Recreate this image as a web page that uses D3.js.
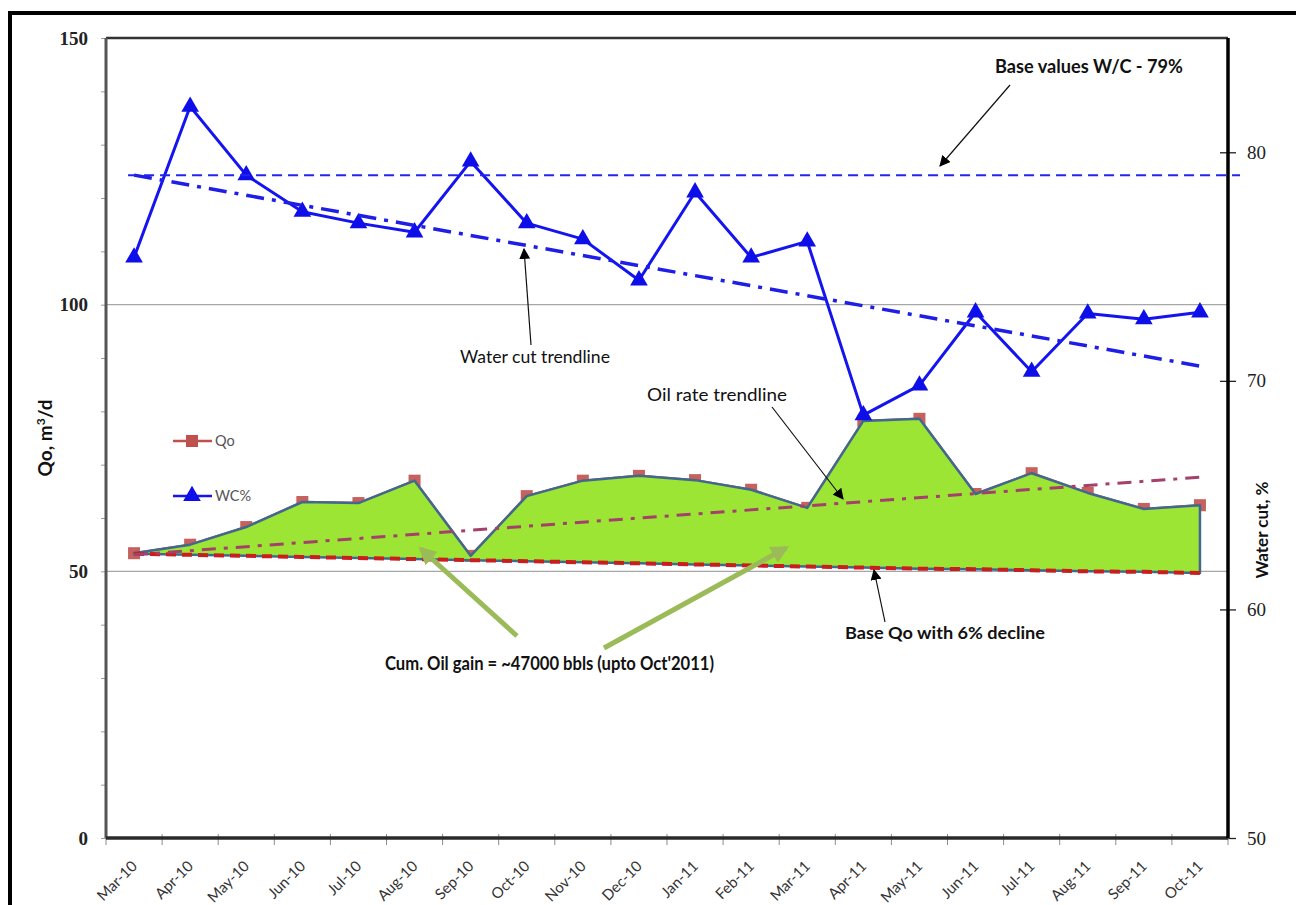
<!DOCTYPE html>
<html>
<head>
<meta charset="utf-8">
<script src="https://cdn.jsdelivr.net/npm/d3@7"></script>
<style>
  html, body { margin: 0; padding: 0; background: #fff; }
  svg { display: block; }
</style>
</head>
<body>
<svg id="chart" width="1296" height="905"></svg>
<script>
// Monthly categories
const months = ["Mar-10","Apr-10","May-10","Jun-10","Jul-10","Aug-10","Sep-10","Oct-10","Nov-10","Dec-10",
                "Jan-11","Feb-11","Mar-11","Apr-11","May-11","Jun-11","Jul-11","Aug-11","Sep-11","Oct-11"];
// Oil rate, m3/d (left axis)
const qo = [53.4, 55.0, 58.3, 63.0, 62.8, 67.0, 52.9, 64.1, 67.0, 67.9,
            67.1, 65.3, 61.9, 78.2, 78.6, 64.5, 68.4, 64.7, 61.7, 62.4];
// Water cut, % (right axis)
const wc = [75.4, 82.0, 79.0, 77.4, 76.9, 76.5, 79.6, 76.9, 76.2, 74.4,
            78.25, 75.4, 76.1, 68.5, 69.8, 73.0, 70.4, 72.95, 72.7, 73.0];
// Base oil rate with 6% decline, m3/d
const baseQo = [53.3, 53.1, 52.9, 52.7, 52.5, 52.3, 52.1, 51.9, 51.7, 51.5,
                51.3, 51.1, 50.9, 50.7, 50.5, 50.4, 50.2, 50.0, 49.9, 49.7];
// Trendline end values (first month, last month)
const oilTrend = [53.1, 67.7];
const wcTrend = [79.0, 70.6];
// Base water cut, %
const baseWC = 79;
// Axis ticks
const leftTicks = [0, 50, 100, 150];
const leftMinorTicks = d3.range(0, 151, 10);
const rightTicks = [50, 60, 70, 80];
const gridValues = [50, 100];

const svg = d3.select("#chart");
const L = 106, R = 1228, T = 38, B = 838;

const x = d3.scaleBand().domain(months).range([L, R]);
const cx = m => x(m) + x.bandwidth() / 2;
const yL = d3.scaleLinear().domain([0, 150]).range([B, T]);
const yR = d3.scaleLinear().domain([50, 85]).range([B, T]);

const sans = "Lato, 'Open Sans', sans-serif";
const serif = "'Liberation Serif', 'DejaVu Serif', serif";

// outer frame
svg.append("rect").attr("x", 10).attr("y", 13).attr("width", 1300).attr("height", 900)
  .attr("fill", "#fff").attr("stroke", "#000").attr("stroke-width", 4);

// horizontal gridlines
svg.append("g").selectAll("line").data(gridValues).join("line")
  .attr("x1", L).attr("x2", R).attr("y1", d => yL(d)).attr("y2", d => yL(d))
  .attr("stroke", "#a6a6a6").attr("stroke-width", 1.2);

// left axis: minor ticks every 10
const leftMinor = svg.append("g").attr("transform", `translate(${L},0)`)
  .call(d3.axisLeft(yL).tickValues(leftMinorTicks).tickSize(5).tickFormat(""));
leftMinor.select(".domain").remove();
leftMinor.selectAll("line").attr("stroke", "#9a9a9a");

// left axis labels
const leftAxis = svg.append("g").attr("transform", `translate(${L},0)`)
  .call(d3.axisLeft(yL).tickValues(leftTicks).tickSize(0).tickPadding(18));
leftAxis.select(".domain").remove();
leftAxis.selectAll("text").attr("font-family", serif).attr("font-weight", "bold")
  .attr("font-size", 19).attr("fill", "#222");

// right axis
const rightAxis = svg.append("g").attr("transform", `translate(${R},0)`)
  .call(d3.axisRight(yR).tickValues(rightTicks).tickSize(8).tickPadding(11));
rightAxis.select(".domain").remove();
rightAxis.selectAll(".tick line").attr("x1", -8).attr("stroke", "#222").attr("stroke-width", 1.3);
rightAxis.selectAll("text").attr("font-family", serif).attr("font-size", 19).attr("fill", "#222");

// category ticks at band boundaries
const bounds = months.map(m => x(m)).concat([R]);
svg.append("g").selectAll("line").data(bounds).join("line")
  .attr("x1", d => d).attr("x2", d => d).attr("y1", B - 4).attr("y2", B + 7)
  .attr("stroke", "#8a8a8a").attr("stroke-width", 1);

// category labels
svg.append("g").selectAll("text").data(months).join("text")
  .attr("transform", d => `translate(${cx(d) + 4},${B + 29}) rotate(-45)`)
  .attr("text-anchor", "end")
  .attr("font-family", sans).attr("font-size", 15).attr("fill", "#333")
  .text(d => d);

// plot frame: top border, left, bottom and right axes
svg.append("line").attr("x1", L).attr("x2", R).attr("y1", T).attr("y2", T)
  .attr("stroke", "#333").attr("stroke-width", 2.5);
svg.append("line").attr("x1", L).attr("x2", L).attr("y1", T).attr("y2", B)
  .attr("stroke", "#555").attr("stroke-width", 3);
svg.append("line").attr("x1", L).attr("x2", R).attr("y1", B).attr("y2", B)
  .attr("stroke", "#2a2a2a").attr("stroke-width", 3.5);
svg.append("line").attr("x1", R).attr("x2", R).attr("y1", T).attr("y2", B)
  .attr("stroke", "#000").attr("stroke-width", 3.5);

// Qo series (line + square markers), partly covered by the gain area
const qoLine = d3.line().x((d, i) => cx(months[i])).y(d => yL(d));
svg.append("path").datum(qo).attr("d", qoLine)
  .attr("fill", "none").attr("stroke", "#c0504d").attr("stroke-width", 2.5);
svg.append("g").selectAll("rect").data(qo).join("rect")
  .attr("x", (d, i) => cx(months[i]) - 6).attr("y", d => yL(d) - 6)
  .attr("width", 12).attr("height", 12).attr("fill", "#c0504d").attr("opacity", 0.9);

// oil gain area between Qo and base decline
const gainArea = d3.area()
  .x((d, i) => cx(months[i]))
  .y0((d, i) => yL(baseQo[i]))
  .y1(d => yL(d));
svg.append("path").datum(qo).attr("d", gainArea)
  .attr("fill", "#9de534").attr("stroke", "#41698f").attr("stroke-width", 2.5)
  .attr("stroke-linejoin", "round");

// base Qo with 6% decline
const baseLine = d3.line().x((d, i) => cx(months[i])).y(d => yL(d));
svg.append("path").datum(baseQo).attr("d", baseLine)
  .attr("fill", "none").attr("stroke", "#c81e1e").attr("stroke-width", 4)
  .attr("stroke-dasharray", "10,6");

// oil rate trendline
const first = months[0], last = months[months.length - 1];
svg.append("line")
  .attr("x1", cx(first)).attr("y1", yL(oilTrend[0]))
  .attr("x2", cx(last) + 4).attr("y2", yL(oilTrend[1]))
  .attr("stroke", "#a3416b").attr("stroke-width", 3)
  .attr("stroke-dasharray", "14,8,4,8");

// water cut series
const wcLine = d3.line().x((d, i) => cx(months[i])).y(d => yR(d));
svg.append("path").datum(wc).attr("d", wcLine)
  .attr("fill", "none").attr("stroke", "#1414f0").attr("stroke-width", 3)
  .attr("stroke-linejoin", "round");
const tri = d3.symbol().type(d3.symbolTriangle).size(135);
svg.append("g").selectAll("path").data(wc).join("path")
  .attr("transform", (d, i) => `translate(${cx(months[i])},${yR(d)})`)
  .attr("d", tri).attr("fill", "#0e0ee8");

// water cut trendline
svg.append("line")
  .attr("x1", cx(first)).attr("y1", yR(wcTrend[0]))
  .attr("x2", cx(last) + 6).attr("y2", yR(wcTrend[1]))
  .attr("stroke", "#1e1ee6").attr("stroke-width", 3.5)
  .attr("stroke-dasharray", "18,8,4,8");

// base water cut line
svg.append("line")
  .attr("x1", cx(first) - 6).attr("y1", yR(baseWC))
  .attr("x2", R + 12).attr("y2", yR(baseWC))
  .attr("stroke", "#2323f0").attr("stroke-width", 2)
  .attr("stroke-dasharray", "10,6");

// legend
const legend = svg.append("g").attr("font-family", sans).attr("font-size", 14.5).attr("fill", "#555");
legend.append("line").attr("x1", 173).attr("x2", 212).attr("y1", 441).attr("y2", 441)
  .attr("stroke", "#c0504d").attr("stroke-width", 2.5);
legend.append("rect").attr("x", 186).attr("y", 435).attr("width", 12).attr("height", 12).attr("fill", "#c0504d");
legend.append("text").attr("x", 215).attr("y", 446).text("Qo");
legend.append("line").attr("x1", 173).attr("x2", 212).attr("y1", 496).attr("y2", 496)
  .attr("stroke", "#1414f0").attr("stroke-width", 2.5);
legend.append("path").attr("transform", "translate(192,496)").attr("d", tri).attr("fill", "#0e0ee8");
legend.append("text").attr("x", 215).attr("y", 501).text("WC%");

// axis titles
const lt = svg.append("text").attr("transform", "translate(52,438) rotate(-90)")
  .attr("text-anchor", "middle").attr("font-family", sans).attr("font-weight", "bold")
  .attr("font-size", 19).attr("fill", "#111");
lt.append("tspan").text("Qo, m");
lt.append("tspan").attr("font-size", 12).attr("dy", -7).text("3");
lt.append("tspan").attr("dy", 7).text("/d");
svg.append("text").attr("transform", "translate(1268,530) rotate(-90)")
  .attr("text-anchor", "middle").attr("font-family", sans).attr("font-weight", "bold")
  .attr("font-size", 17).attr("fill", "#111").text("Water cut, %");

// annotation arrows
const defs = svg.append("defs");
defs.append("marker").attr("id", "headBlack").attr("viewBox", "0 0 10 10")
  .attr("refX", 9).attr("refY", 5).attr("markerWidth", 11).attr("markerHeight", 11)
  .attr("markerUnits", "userSpaceOnUse").attr("orient", "auto")
  .append("path").attr("d", "M0,0 L10,5 L0,10 Z").attr("fill", "#000");
defs.append("marker").attr("id", "headGreen").attr("viewBox", "0 0 10 10")
  .attr("refX", 8).attr("refY", 5).attr("markerWidth", 18).attr("markerHeight", 18)
  .attr("markerUnits", "userSpaceOnUse").attr("orient", "auto")
  .append("path").attr("d", "M0,0 L10,5 L0,10 Z").attr("fill", "#9bbb59");

const blackArrows = [
  [1010, 85, 940, 166],
  [531, 345, 524, 249],
  [772, 407, 843, 499],
  [885, 622, 874, 570]
];
svg.append("g").selectAll("line").data(blackArrows).join("line")
  .attr("x1", d => d[0]).attr("y1", d => d[1]).attr("x2", d => d[2]).attr("y2", d => d[3])
  .attr("stroke", "#111").attr("stroke-width", 1.2).attr("marker-end", "url(#headBlack)");

const greenArrows = [
  [517, 636, 421, 549],
  [604, 648, 786, 548]
];
svg.append("g").selectAll("line").data(greenArrows).join("line")
  .attr("x1", d => d[0]).attr("y1", d => d[1]).attr("x2", d => d[2]).attr("y2", d => d[3])
  .attr("stroke", "#9bbb59").attr("stroke-width", 5).attr("marker-end", "url(#headGreen)");

// annotation texts (len = set run width)
const notes = [
  { t: "Base values W/C - 79%", x: 995, y: 73, w: "bold", s: 18, len: 188 },
  { t: "Water cut trendline", x: 460, y: 363, w: "normal", s: 17, len: 150 },
  { t: "Oil rate trendline", x: 647, y: 401, w: "normal", s: 17.5, len: 140 },
  { t: "Base Qo with 6% decline", x: 845, y: 639, w: "bold", s: 17.5, len: 200 },
  { t: "Cum. Oil gain = ~47000 bbls (upto Oct'2011)", x: 385, y: 670, w: "bold", s: 18.5, len: 329 }
];
svg.append("g").selectAll("text").data(notes).join("text")
  .attr("x", d => d.x).attr("y", d => d.y)
  .attr("font-family", sans).attr("font-weight", d => d.w).attr("font-size", d => d.s)
  .attr("textLength", d => d.len).attr("lengthAdjust", "spacingAndGlyphs")
  .attr("fill", "#111").text(d => d.t);
</script>
</body>
</html>
